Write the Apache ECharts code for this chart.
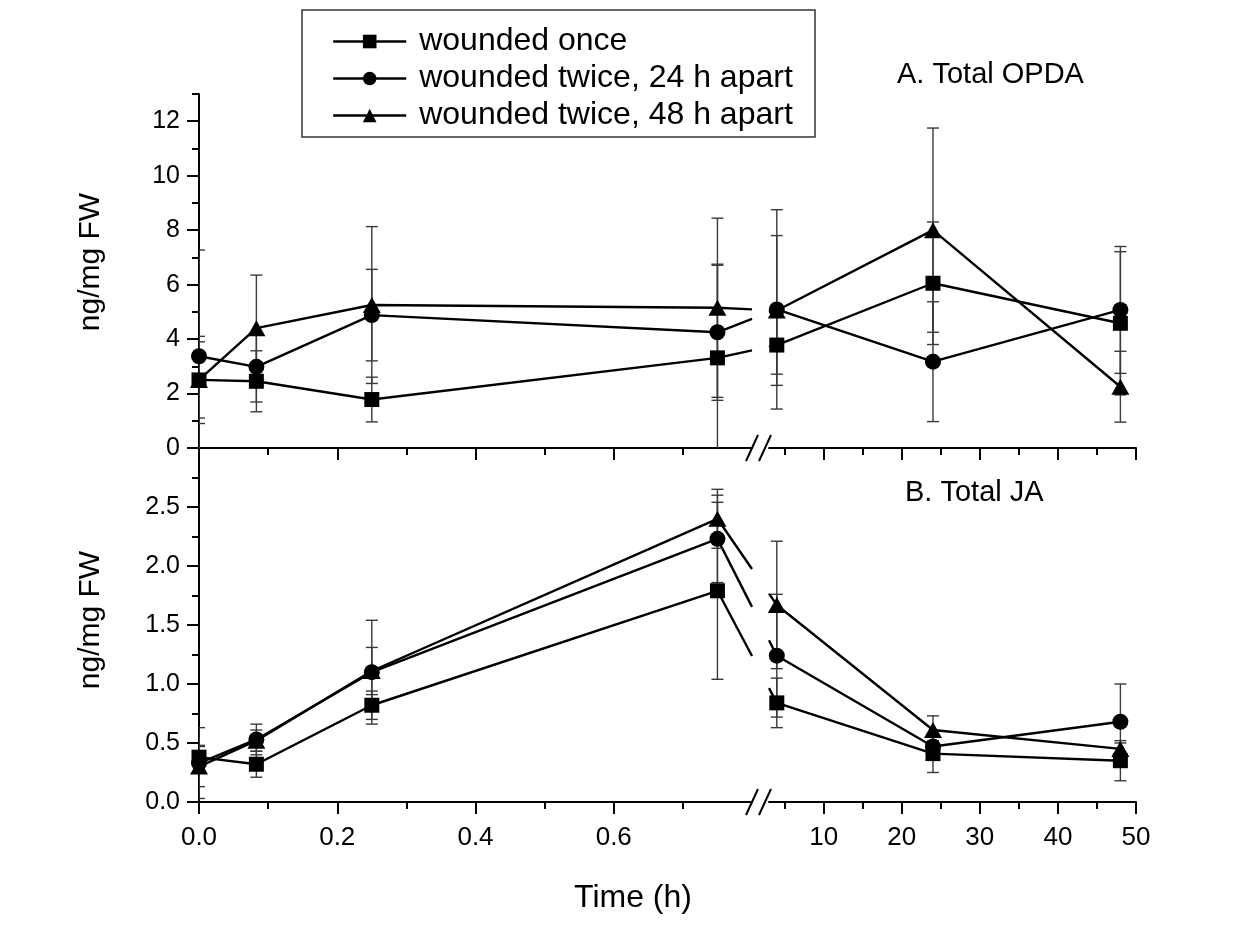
<!DOCTYPE html>
<html><head><meta charset="utf-8">
<script src="https://cdn.jsdelivr.net/npm/echarts@6/dist/echarts.min.js"></script>
<style>html,body{margin:0;padding:0;background:#fff}#c{width:1254px;height:947px}</style>
</head><body><div id="c"></div>
<script>
// ---- data ----
const times = [0, 0.083, 0.25, 0.75, 4, 24, 48];
const seriesNames = ['wounded once', 'wounded twice, 24 h apart', 'wounded twice, 48 h apart'];
const opdaOnce = [2.5, 2.45, 1.78, 3.31, 3.78, 6.05, 4.58];
const opdaOnceErr = [1.4, 1.12, 0.82, 3.4, 1.07, 2.25, 2.63];
const opda24 = [3.37, 2.98, 4.88, 4.25, 5.09, 3.17, 5.07];
const opda24Err = [3.9, 1.29, 1.68, 2.5, 3.66, 2.2, 2.33];
const opda48 = [2.5, 4.4, 5.25, 5.15, 5.05, 8.0, 2.25];
const opda48Err = [1.6, 1.95, 2.88, 3.29, 2.75, 3.75, 1.3];
const jaOnce = [0.38, 0.32, 0.82, 1.79, 0.84, 0.41, 0.35];
const jaOnceErr = [0.1, 0.11, 0.12, 0.75, 0.21, 0.16, 0.17];
const ja24 = [0.33, 0.53, 1.10, 2.23, 1.24, 0.47, 0.68];
const ja24Err = [0.3, 0.13, 0.44, 0.37, 0.52, 0.05, 0.32];
const ja48 = [0.30, 0.52, 1.11, 2.40, 1.67, 0.61, 0.45];
const ja48Err = [0.17, 0.09, 0.2, 0.25, 0.54, 0.12, 0.05];
const leftTicks = [0, 0.2, 0.4, 0.6];
const leftMinor = [0.1, 0.3, 0.5, 0.7];
const rightTicks = [10, 20, 30, 40, 50];
const rightMinor = [5, 15, 25, 35, 45];
const opdaTicks = [0, 2, 4, 6, 8, 10, 12];
const opdaMinor = [1, 3, 5, 7, 9, 11, 13];
const jaTicks = [0, 0.5, 1.0, 1.5, 2.0, 2.5];
const jaMinor = [0.25, 0.75, 1.25, 1.75, 2.25, 2.75];
const panelTitles = ['A. Total OPDA', 'B. Total JA'];
const yTitle = 'ng/mg FW';
const xTitle = 'Time (h)';

// ---- layout ----
const FONT = "'Liberation Sans', Arial, Helvetica, sans-serif";
const L = {left: 199, leftEnd: 752, rightStart: 769, rightEnd: 1136, top: 94, mid: 448, bottom: 802};
const xRanges = [[0, 0.8], [3, 50]];
const yRanges = [[0, 13], [0, 3]];
const panelData = [
  [[opdaOnce, opdaOnceErr], [opda24, opda24Err], [opda48, opda48Err]],
  [[jaOnce, jaOnceErr], [ja24, ja24Err], [ja48, ja48Err]]
];
const symbols = ['rect', 'circle', 'triangle'];
const symbolSizes = [15, 16, [18, 16]];
const LW = 2.4;

const grids = [], xAxes = [], yAxes = [], series = [];
const lineIdx = [[[], []], [[], []]]; // [panel][side][k]
for (let p = 0; p < 2; p++) {
  for (let s = 0; s < 2; s++) {
    const g = p * 2 + s;
    const top = p === 0 ? L.top : L.mid;
    const bottom = p === 0 ? L.mid : L.bottom;
    const left = s === 0 ? L.left : L.rightStart;
    const right = s === 0 ? L.leftEnd : L.rightEnd;
    grids.push({left: left, top: top, width: right - left, height: bottom - top, containLabel: false});
    const ticks = s === 0 ? leftTicks : rightTicks;
    const minor = s === 0 ? leftMinor : rightMinor;
    xAxes.push({
      type: 'value', gridIndex: g, min: xRanges[s][0], max: xRanges[s][1], position: 'bottom',
      axisLine: {show: true, onZero: false, lineStyle: {color: '#000', width: 2}},
      axisTick: {show: true, inside: false, length: 12, customValues: ticks, lineStyle: {color: '#000', width: 2}},
      axisLabel: {show: p === 1, customValues: ticks, margin: 23, color: '#000', fontSize: 26, fontFamily: FONT,
        formatter: v => s === 0 ? v.toFixed(1) : String(v)},
      splitLine: {show: false}
    });
    xAxes.push({
      type: 'value', gridIndex: g, min: xRanges[s][0], max: xRanges[s][1], position: 'bottom',
      axisLine: {show: false, onZero: false},
      axisTick: {show: true, inside: false, length: 7, customValues: minor, lineStyle: {color: '#000', width: 2}},
      axisLabel: {show: false}, splitLine: {show: false}
    });
    const yt = p === 0 ? opdaTicks : jaTicks;
    const ym = p === 0 ? opdaMinor : jaMinor;
    yAxes.push({
      type: 'value', gridIndex: g, min: yRanges[p][0], max: yRanges[p][1], position: 'left', show: s === 0,
      axisLine: {show: true, onZero: false, lineStyle: {color: '#000', width: 2}},
      axisTick: {show: true, inside: false, length: 12, customValues: yt, lineStyle: {color: '#000', width: 2}},
      axisLabel: {show: true, customValues: yt, margin: 19, color: '#000', fontSize: 25, fontFamily: FONT,
        formatter: v => p === 0 ? String(v) : v.toFixed(1)},
      splitLine: {show: false}
    });
    yAxes.push({
      type: 'value', gridIndex: g, min: yRanges[p][0], max: yRanges[p][1], position: 'left', show: s === 0,
      axisLine: {show: false, onZero: false},
      axisTick: {show: true, inside: false, length: 7, customValues: ym, lineStyle: {color: '#000', width: 2}},
      axisLabel: {show: false}, splitLine: {show: false}
    });
    const xi = g * 2, yi = g * 2;
    const inRange = t => t >= xRanges[s][0] && t <= xRanges[s][1];
    for (let k = 0; k < 3; k++) {
      const vals = panelData[p][k][0], errs = panelData[p][k][1];
      const idx = times.map((t, i) => i).filter(i => inRange(times[i]));
      series.push({
        type: 'custom', xAxisIndex: xi, yAxisIndex: yi, clip: true, z: 2, silent: true,
        data: idx.map(i => [times[i], vals[i] - errs[i], vals[i] + errs[i]]),
        encode: {x: 0, y: [1, 2]},
        renderItem: function (params, api) {
          const lo = api.coord([api.value(0), api.value(1)]);
          const hi = api.coord([api.value(0), api.value(2)]);
          const hw = 6;
          const st = {stroke: '#3a3a3a', lineWidth: 1.4};
          return {type: 'group', children: [
            {type: 'line', shape: {x1: lo[0], y1: lo[1], x2: hi[0], y2: hi[1]}, style: st},
            {type: 'line', shape: {x1: lo[0] - hw, y1: lo[1], x2: lo[0] + hw, y2: lo[1]}, style: st},
            {type: 'line', shape: {x1: hi[0] - hw, y1: hi[1], x2: hi[0] + hw, y2: hi[1]}, style: st}
          ]};
        }
      });
      lineIdx[p][s][k] = series.length;
      series.push({
        type: 'line', name: seriesNames[k], xAxisIndex: xi, yAxisIndex: yi, clip: true, z: 3,
        data: idx.map(i => [times[i], vals[i]]),
        symbol: symbols[k], symbolSize: symbolSizes[k], showAllSymbol: true,
        lineStyle: {color: '#000', width: LW}, itemStyle: {color: '#000'},
        emphasis: {disabled: true}, animation: false
      });
    }
  }
}

function breakMarks(y) {
  const c = {stroke: '#000', lineWidth: 2};
  return [
    {type: 'line', shape: {x1: 746, y1: y + 13, x2: 758, y2: y - 13}, style: c},
    {type: 'line', shape: {x1: 759, y1: y + 13, x2: 771, y2: y - 13}, style: c}
  ];
}

const baseGraphic = [
  {type: 'rect', shape: {x: 302, y: 10, width: 513, height: 127}, style: {fill: 'none', stroke: '#333', lineWidth: 1.5}, z: 0},
  {type: 'text', x: 897, y: 75, style: {text: panelTitles[0], fontSize: 29, fontFamily: FONT, fill: '#000', align: 'left', verticalAlign: 'middle'}},
  {type: 'text', x: 905, y: 493, style: {text: panelTitles[1], fontSize: 29, fontFamily: FONT, fill: '#000', align: 'left', verticalAlign: 'middle'}},
  {type: 'text', x: 91, y: 262, rotation: Math.PI / 2, style: {text: yTitle, fontSize: 30, fontFamily: FONT, fill: '#000', align: 'center', verticalAlign: 'middle'}},
  {type: 'text', x: 91, y: 620, rotation: Math.PI / 2, style: {text: yTitle, fontSize: 30, fontFamily: FONT, fill: '#000', align: 'center', verticalAlign: 'middle'}},
  {type: 'text', x: 633, y: 898, style: {text: xTitle, fontSize: 32, fontFamily: FONT, fill: '#000', align: 'center', verticalAlign: 'middle'}}
].concat(breakMarks(L.mid), breakMarks(L.bottom));

const chart = echarts.init(document.getElementById('c'), null, {renderer: 'canvas'});
chart.setOption({
  backgroundColor: '#fff',
  animation: false,
  grid: grids, xAxis: xAxes, yAxis: yAxes, series: series,
  legend: {
    data: seriesNames, orient: 'vertical', left: 332, top: 25, itemWidth: 73, itemHeight: 17, itemGap: 4,
    selectedMode: false, padding: 0,
    lineStyle: {color: '#000', width: LW}, itemStyle: {color: '#000'},
    textStyle: {fontSize: 32, fontFamily: FONT, color: '#000', lineHeight: 33, padding: [0, 0, 0, 8]}
  },
  graphic: baseGraphic
});

// connecting segments across the axis break, positioned through the library's scales
const bridges = [];
const lastLeft = times.filter(t => t <= xRanges[0][1]).length - 1;
const firstRight = lastLeft + 1;
for (let p = 0; p < 2; p++) {
  for (let k = 0; k < 3; k++) {
    const vals = panelData[p][k][0];
    const a = chart.convertToPixel({seriesIndex: lineIdx[p][0][k]}, [times[lastLeft], vals[lastLeft]]);
    const b = chart.convertToPixel({seriesIndex: lineIdx[p][1][k]}, [times[firstRight], vals[firstRight]]);
    const xL = chart.convertToPixel({seriesIndex: lineIdx[p][0][k]}, [xRanges[0][1], 0])[0];
    const xR = chart.convertToPixel({seriesIndex: lineIdx[p][1][k]}, [xRanges[1][0], 0])[0];
    const yAt = x => a[1] + (b[1] - a[1]) * (x - a[0]) / (b[0] - a[0]);
    const st = {stroke: '#000', lineWidth: LW};
    bridges.push({type: 'line', z: 1, shape: {x1: a[0], y1: a[1], x2: xL, y2: yAt(xL)}, style: st});
    bridges.push({type: 'line', z: 1, shape: {x1: xR, y1: yAt(xR), x2: b[0], y2: b[1]}, style: st});
  }
}
chart.setOption({graphic: baseGraphic.concat(bridges)}, {replaceMerge: ['graphic']});
</script></body></html>
